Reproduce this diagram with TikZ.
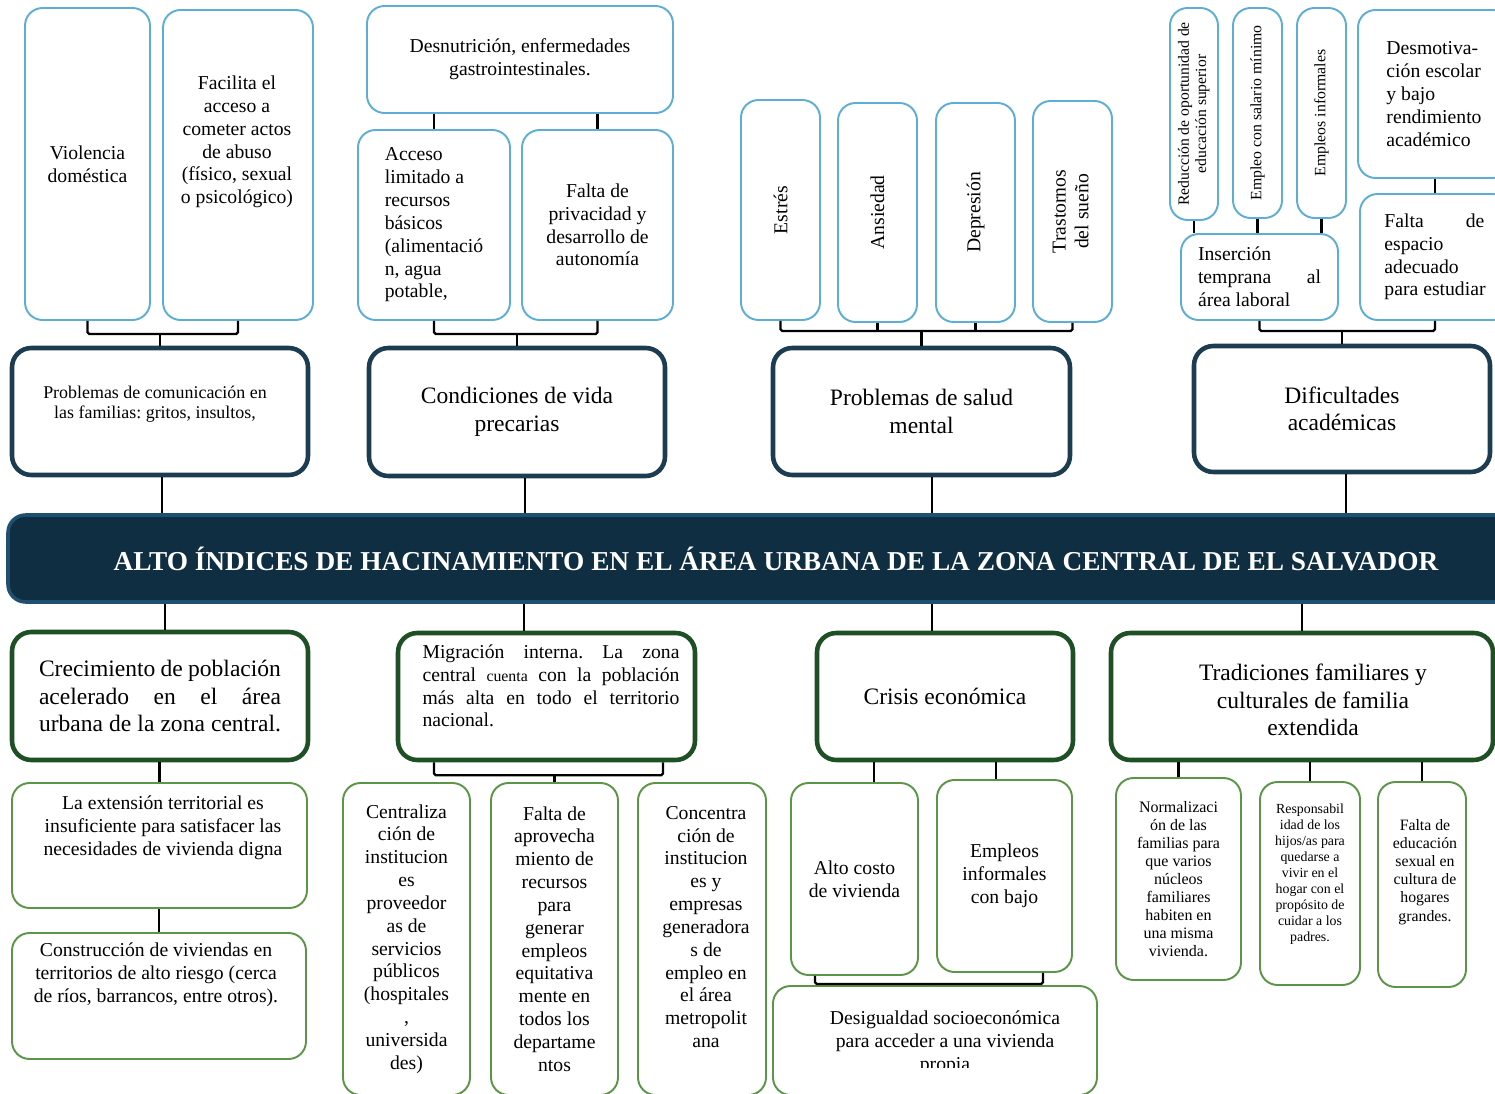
\documentclass[tikz,border=0pt]{standalone}
\usepackage{fontspec}
\setmainfont{Liberation Serif}
\usepackage{tikz}
\usetikzlibrary{positioning}
\usepackage{graphicx}
\definecolor{sky}{HTML}{5DAED6}
\definecolor{deepnavy}{HTML}{1C3D51}
\definecolor{titlefill}{HTML}{0F2E42}
\definecolor{titleedge}{HTML}{1F5070}
\definecolor{forest}{HTML}{1F4F25}
\definecolor{leaf}{HTML}{5A9646}
\newcommand{\fs}[2]{\fontsize{#1}{#2}\selectfont}
\frenchspacing

\tikzset{
  sz/.style 2 args={minimum width={#1*0.02cm}, minimum height={#2*0.02cm}},
  bluebox/.style={draw=sky, line width=1.1pt, rounded corners=10pt, inner sep=0pt, align=center, font=\fs{11.2}{13}},
  navybox/.style={draw=deepnavy, line width=2.6pt, rounded corners=11pt, inner sep=0pt, align=center, font=\fs{13.4}{15.6}},
  forestbox/.style={draw=forest, line width=2.6pt, rounded corners=11pt, inner sep=0pt, align=center, font=\fs{13.4}{15.8}},
  leafbox/.style={draw=leaf, line width=1.1pt, rounded corners=10pt, inner sep=0pt, align=center, font=\fs{11.2}{13}},
  titlebar/.style={fill=titlefill, draw=titleedge, line width=2pt, rounded corners=10pt, text=white, font=\fs{15.55}{18}\bfseries},
  txt/.style={inner sep=0pt, align=center, font=\fs{11.2}{13}},
  link/.style={line width=1.3pt, black, rounded corners=1pt},
}

\begin{document}
\begin{tikzpicture}[x=0.02cm, y=-0.02cm]
  \clip (0,0) rectangle (1495,1094);

  % effects: family
  \node[bluebox, sz={125}{312}] (viol) at (87.5,164) {Violencia\\doméstica};
  \node[bluebox, sz={150}{310}] (faci) at (238,165) {};
  \node[txt] (faci-t) at (237,142) {Facilita el\\acceso a\\cometer actos\\de abuso\\(físico, sexual\\o psicológico)};
  \node[navybox, sz={296}{127}] (comu) at (160,411.5) {};
  \node[txt, font=\fs{10.2}{11.6}] (comu-t) at (155,404) {Problemas de comunicación en\\las familias: gritos, insultos,};

  % effects: living conditions
  \node[bluebox, sz={306}{107}] (desn) at (520,59.5) {Desnutrición, enfermedades\\gastrointestinales.};
  \node[bluebox, sz={152}{190}, align=left] (acce) at (434,225) {Acceso\\limitado a\\recursos\\básicos\\(alimentació\\n, agua\\potable,};
  \node[bluebox, sz={151}{190}] (priv) at (597.5,225) {Falta de\\privacidad y\\desarrollo de\\autonomía};
  \node[navybox, sz={296}{128}] (cond) at (517,412) {Condiciones de vida\\precarias};

  % effects: mental health
  \node[bluebox, sz={79}{220}] (estr) at (780.5,210) {\rotatebox{90}{Estrés}};
  \node[bluebox, sz={79}{219}] (ansi) at (877.5,212.5) {\rotatebox{90}{Ansiedad}};
  \node[bluebox, sz={79}{219}] (depr) at (975.5,212.5) {\rotatebox{90}{Depresión}};
  \node[bluebox, sz={79}{221}] (tras) at (1072.5,211.5) {\rotatebox{90}{\begin{tabular}{@{}c@{}}Trastornos\\del sueño\end{tabular}}};
  \node[navybox, sz={297}{127}] (salu) at (921.5,411.5) {Problemas de salud\\mental};

  % effects: school
  \node[bluebox, sz={48}{212}, font=\fs{8.9}{9.8}] (redu) at (1194,114) {\rotatebox{90}{\begin{tabular}{@{}c@{}}Reducción de oportunidad de\\educación superior\end{tabular}}};
  \node[bluebox, sz={49}{210}, font=\fs{9}{10}] (empm) at (1257.5,113) {\rotatebox{90}{Empleo con salario mínimo}};
  \node[bluebox, sz={49}{210}, font=\fs{9}{10}] (empi) at (1321.5,113) {\rotatebox{90}{Empleos informales}};
  \node[bluebox, sz={157}{86}, align=left] (inse) at (1259.5,277) {Inserción\\\makebox[2.46cm][s]{temprana al}\\área laboral};
  \node[bluebox, sz={152}{168}, align=left] (desm) at (1434,94) {Desmotiva-\\ción escolar\\y bajo\\rendimiento\\académico};
  \node[bluebox, sz={150}{126}, align=left] (espa) at (1435,257) {\makebox[2cm][s]{Falta de}\\espacio\\adecuado\\para estudiar};
  \node[navybox, sz={296}{126}] (difi) at (1342,409) {Dificultades\\académicas};

  % problem
  \node[titlebar, sz={1536}{87}] (titu) at (776,558.5) {ALTO ÍNDICES DE HACINAMIENTO EN EL ÁREA URBANA DE LA ZONA CENTRAL DE EL SALVADOR};

  % causes: growth
  \node[forestbox, sz={296}{128}] (crec) at (160,696) {\makebox[4.84cm][s]{Crecimiento de población}\\\makebox[4.84cm][s]{acelerado en el área}\\\makebox[4.84cm][s]{urbana de la zona central.}};
  \node[leafbox, sz={295}{125}] (exte) at (159.5,845.5) {};
  \node[txt] (exte-t) at (163,828) {La extensión territorial es\\insuficiente para satisfacer las\\necesidades de vivienda digna};
  \node[leafbox, sz={294}{126}] (cons) at (159,996) {};
  \node[txt] (cons-t) at (156,975) {Construcción de viviendas en\\territorios de alto riesgo (cerca\\de ríos, barrancos, entre otros).};

  % causes: migration
  \node[forestbox, sz={297}{127}] (migr) at (546.5,696.5) {};
  \node[txt, align=left] (migr-t) at (551,686) {\makebox[5.14cm][s]{Migración interna. La zona}\\\makebox[5.14cm][s]{central {\fs{9}{13}cuenta} con la población}\\\makebox[5.14cm][s]{más alta en todo el territorio}\\nacional.};
  \node[leafbox, sz={127}{312}] (cent) at (406.5,939) {Centraliza\\ción de\\institucion\\es\\proveedor\\as de\\servicios\\públicos\\(hospitales\\,\\universida\\des)};
  \node[leafbox, sz={127}{312}] (apro) at (554.5,939) {Falta de\\aprovecha\\miento de\\recursos\\para\\generar\\empleos\\equitativa\\mente en\\todos los\\departame\\ntos};
  \node[leafbox, sz={128}{312}] (conc) at (702,939) {};
  \node[txt] (conc-t) at (706,927) {Concentra\\ción de\\institucion\\es y\\empresas\\generadora\\s de\\empleo en\\el área\\metropolit\\ana};

  % causes: economy
  \node[forestbox, sz={256}{127}] (cris) at (945,696.5) {Crisis económica};
  \node[leafbox, sz={127}{192}] (alto) at (854.5,879) {Alto costo\\de vivienda};
  \node[leafbox, sz={135}{192}] (infm) at (1004.5,876) {Empleos\\informales\\con bajo};
  \node[leafbox, sz={324}{109}] (desi) at (935,1040.5) {};
  \begin{scope}
    \clip (773,986) rectangle (1097,1067);
    \node[txt] (desi-t) at (945,1043) {Desigualdad socioeconómica\\para acceder a una vivienda\\propia};
  \end{scope}

  % causes: traditions
  \node[forestbox, sz={382}{127}] (trad) at (1302,696.5) {};
  \node[txt, font=\fs{13.4}{15.8}] (trad-t) at (1313,700) {Tradiciones familiares y\\culturales de familia\\extendida};
  \node[leafbox, sz={125}{202}, font=\fs{9.1}{10.3}] (norm) at (1178.5,879) {Normalizaci\\ón de las\\familias para\\que varios\\núcleos\\familiares\\habiten en\\una misma\\vivienda.};
  \node[leafbox, sz={100}{203}] (resp) at (1310,883.5) {};
  \node[txt, font=\fs{7.9}{9.1}] (resp-t) at (1310,874) {Responsabil\\idad de los\\hijos/as para\\quedarse a\\vivir en el\\hogar con el\\propósito de\\cuidar a los\\padres.};
  \node[leafbox, sz={88}{205}] (fedu) at (1422,884.5) {};
  \node[txt, font=\fs{9}{10.3}] (fedu-t) at (1425,872) {Falta de\\educación\\sexual en\\cultura de\\hogares\\grandes.};

  % upper connectors
  \draw[link] (viol.south) -- ++(0,13) coordinate (k1) -| (faci.south);
  \draw[link] (comu.north) -- (comu.north |- k1);
  \draw[link] (acce.north) -- (acce.north |- desn.south);
  \draw[link] (priv.north) -- (priv.north |- desn.south);
  \draw[link] (acce.south) -- ++(0,13) coordinate (k2) -| (priv.south);
  \draw[link] (cond.north) -- (cond.north |- k2);
  \draw[link] (estr.south) -- ++(0,10) coordinate (k3) -| (tras.south);
  \foreach \n in {ansi,depr}
    \draw[link] (\n.south) -- (\n.south |- k3);
  \draw[link] (salu.north) -- (salu.north |- k3);
  \foreach \n in {redu,empm,empi}
    \draw[link] (\n.south) -- (\n.south |- inse.north);
  \draw[link] (espa.north) -- (espa.north |- desm.south);
  \draw[link] (inse.south) -- ++(0,10) coordinate (k4) -| (espa.south);
  \draw[link] (difi.north) -- (difi.north |- k4);
  \foreach \n/\dx in {comu/0.04cm,cond/0.16cm,salu/0.21cm,difi/0.08cm}
    \draw[link] ([xshift=\dx]\n.south) -- ([xshift=\dx]\n.south |- titu.north);

  % lower connectors
  \draw[link] ([xshift=0.1cm]crec.north) -- ([xshift=0.1cm]crec.north |- titu.south);
  \draw[link] ([xshift=-0.45cm]migr.north) -- ([xshift=-0.45cm]migr.north |- titu.south);
  \draw[link] ([xshift=-0.26cm]cris.north) -- ([xshift=-0.26cm]cris.north |- titu.south);
  \draw[link] (trad.north) -- (trad.north |- titu.south);
  \draw[link] (exte.north) -- (exte.north |- crec.south);
  \draw[link] (cons.north) -- (cons.north |- exte.south);
  \draw[link] ([xshift=-2.25cm]migr.south) -- ++(0,13) coordinate (k5) -| ([xshift=2.33cm]migr.south);
  \draw[link] (apro.north) -- (apro.north |- k5);
  \draw[link] ([xshift=0.39cm]alto.north) -- ([xshift=0.39cm]alto.north |- cris.south);
  \draw[link] ([xshift=-0.17cm]infm.north) -- ([xshift=-0.17cm]infm.north |- cris.south);
  \draw[link] ([xshift=-0.79cm]alto.south) -- ++(0,8) coordinate (k6) -| ([xshift=0.77cm]infm.south);
  \draw[link] (desi.north) -- (desi.north |- k6);
  \foreach \n in {norm,resp,fedu}
    \draw[link] (\n.north) -- (\n.north |- trad.south);
\end{tikzpicture}
\end{document}
